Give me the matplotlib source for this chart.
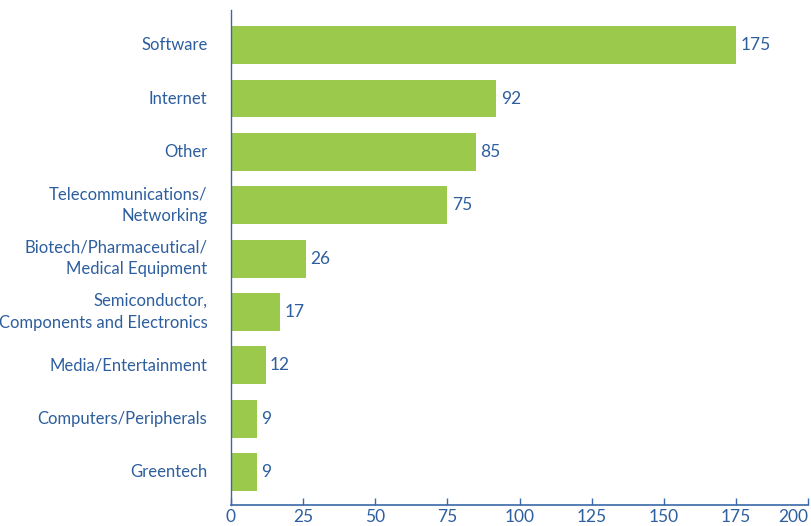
import numpy as np
import matplotlib
matplotlib.use("Agg")
import matplotlib.pyplot as plt

categories = [
    "Software",
    "Internet",
    "Other",
    "Telecommunications/\nNetworking",
    "Biotech/Pharmaceutical/\nMedical Equipment",
    "Semiconductor,\nComponents and Electronics",
    "Media/Entertainment",
    "Computers/Peripherals",
    "Greentech",
]
values = [175, 92, 85, 75, 26, 17, 12, 9, 9]
x_ticks = [0, 25, 50, 75, 100, 125, 150, 175, 200]

green = "#9BC94B"
blue = "#2D5E9E"
axis_blue = "#3A68A8"

plt.rcParams["font.family"] = ["Lato", "DejaVu Sans"]

fig = plt.figure(figsize=(8.11, 5.26), dpi=100)
ax = fig.add_axes([231 / 811, 1 - 505 / 526, 577 / 811, 495 / 526])

n = len(categories)
ypos = np.arange(n)[::-1]
ax.barh(ypos, values, height=0.71, color=green, zorder=2)

for y, v in zip(ypos, values):
    ax.text(v + 1.5, y, str(v), va="center", ha="left", color=blue, fontsize=12.5)

ax.set_xlim(0, 200)
ax.set_ylim(-0.62, n - 1 + 0.66)
ax.set_yticks(ypos)
ax.set_yticklabels(categories, color=blue, fontsize=12, linespacing=1.45, va="center")
ax.set_xticks(x_ticks)
ax.set_xticklabels([str(t) for t in x_ticks], color=blue, fontsize=12.5)
# last tick label sits at the right edge of the figure
ax.get_xticklabels()[-1].set_horizontalalignment("right")

ax.tick_params(axis="y", length=0, pad=17)
ax.tick_params(axis="x", direction="in", length=5, color=axis_blue, width=1, pad=3)

for s in ["top", "right"]:
    ax.spines[s].set_visible(False)
ax.spines["left"].set_color(axis_blue)
ax.spines["bottom"].set_color(axis_blue)
ax.spines["left"].set_linewidth(1)
ax.spines["bottom"].set_linewidth(1.2)

fig.savefig("out.png", dpi=100)
